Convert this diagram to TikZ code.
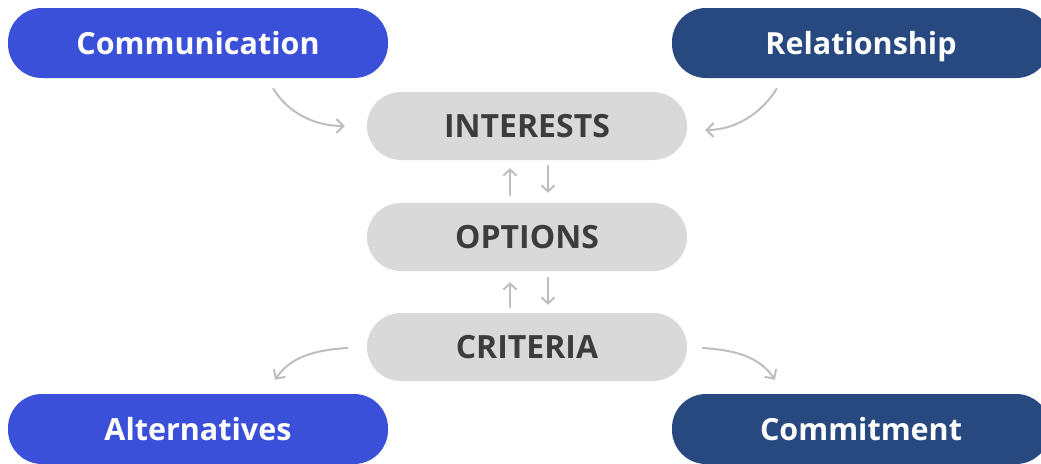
\documentclass[tikz,border=0pt]{standalone}
\usepackage{fontspec}
\setmainfont{Open Sans}
\usetikzlibrary{arrows.meta}
\definecolor{brightblue}{RGB}{59,80,216}
\definecolor{navyblue}{RGB}{40,72,128}
\definecolor{pillgray}{RGB}{217,217,217}
\definecolor{textgray}{RGB}{60,60,60}
\definecolor{arrowgray}{RGB}{190,190,190}
\begin{document}
\begin{tikzpicture}[x=1pt,y=-1pt,
  pill/.style={rounded corners=34pt, inner sep=0pt, minimum height=70pt},
  bluepill/.style={pill, fill=brightblue, text=white, minimum width=380pt,
    font=\fontsize{30.5}{36}\selectfont\bfseries, text height=22pt, text depth=0pt},
  navypill/.style={bluepill, fill=navyblue, minimum width=378pt},
  graypill/.style={pill, fill=pillgray, text=textgray, minimum width=320pt, minimum height=68pt,
    font=\fontsize{32}{38}\selectfont\bfseries, text height=23pt, text depth=0pt},
  curvearrow/.style={draw=arrowgray, line width=2pt,
    -{Straight Barb[length=7pt,width=14pt,line width=2pt]}},
  vertarrow/.style={draw=arrowgray, line width=2pt,
    -{Straight Barb[length=6pt,width=13pt,line width=2pt]}}]
\useasboundingbox (0,0) rectangle (1041,463);

\node[bluepill] (comm) at (198,43) {Communication};
\node[navypill] (rel) at (861,43) {Relationship};
\node[bluepill] (alt) at (198,429) {Alternatives};
\node[navypill] (commit) at (861,429) {Commitment};

\node[graypill] (interests) at (527,126) {INTERESTS};
\node[graypill] (options) at (527,237) {OPTIONS};
\node[graypill] (criteria) at (527,347) {CRITERIA};

% curved connectors
\draw[curvearrow] ([xshift=75pt,yshift=-10pt]comm.south)
  .. controls +(15,25) and +(-30,0) .. ([xshift=-22pt]interests.west);
\draw[curvearrow] ([xshift=-84pt,yshift=-10pt]rel.south)
  .. controls +(-15,25) and +(30,0) .. ([xshift=18pt,yshift=-4pt]interests.east);
\draw[curvearrow] ([xshift=-19pt,yshift=-1pt]criteria.west)
  .. controls +(-35,2) and +(15,-22) .. ([xshift=77pt,yshift=14pt]alt.north);
\draw[curvearrow] ([xshift=15pt,yshift=-1pt]criteria.east)
  .. controls +(35,2) and +(-15,-22) .. ([xshift=-86pt,yshift=14pt]commit.north);

% vertical connectors
\draw[vertarrow] ([xshift=-17pt,yshift=7pt]options.north) -- ([xshift=-17pt,yshift=-8pt]interests.south);
\draw[vertarrow] ([xshift=21pt,yshift=-5pt]interests.south) -- ([xshift=21pt,yshift=10pt]options.north);
\draw[vertarrow] ([xshift=-17pt,yshift=5pt]criteria.north) -- ([xshift=-17pt,yshift=-11pt]options.south);
\draw[vertarrow] ([xshift=21pt,yshift=-6pt]options.south) -- ([xshift=21pt,yshift=8pt]criteria.north);
\end{tikzpicture}
\end{document}
